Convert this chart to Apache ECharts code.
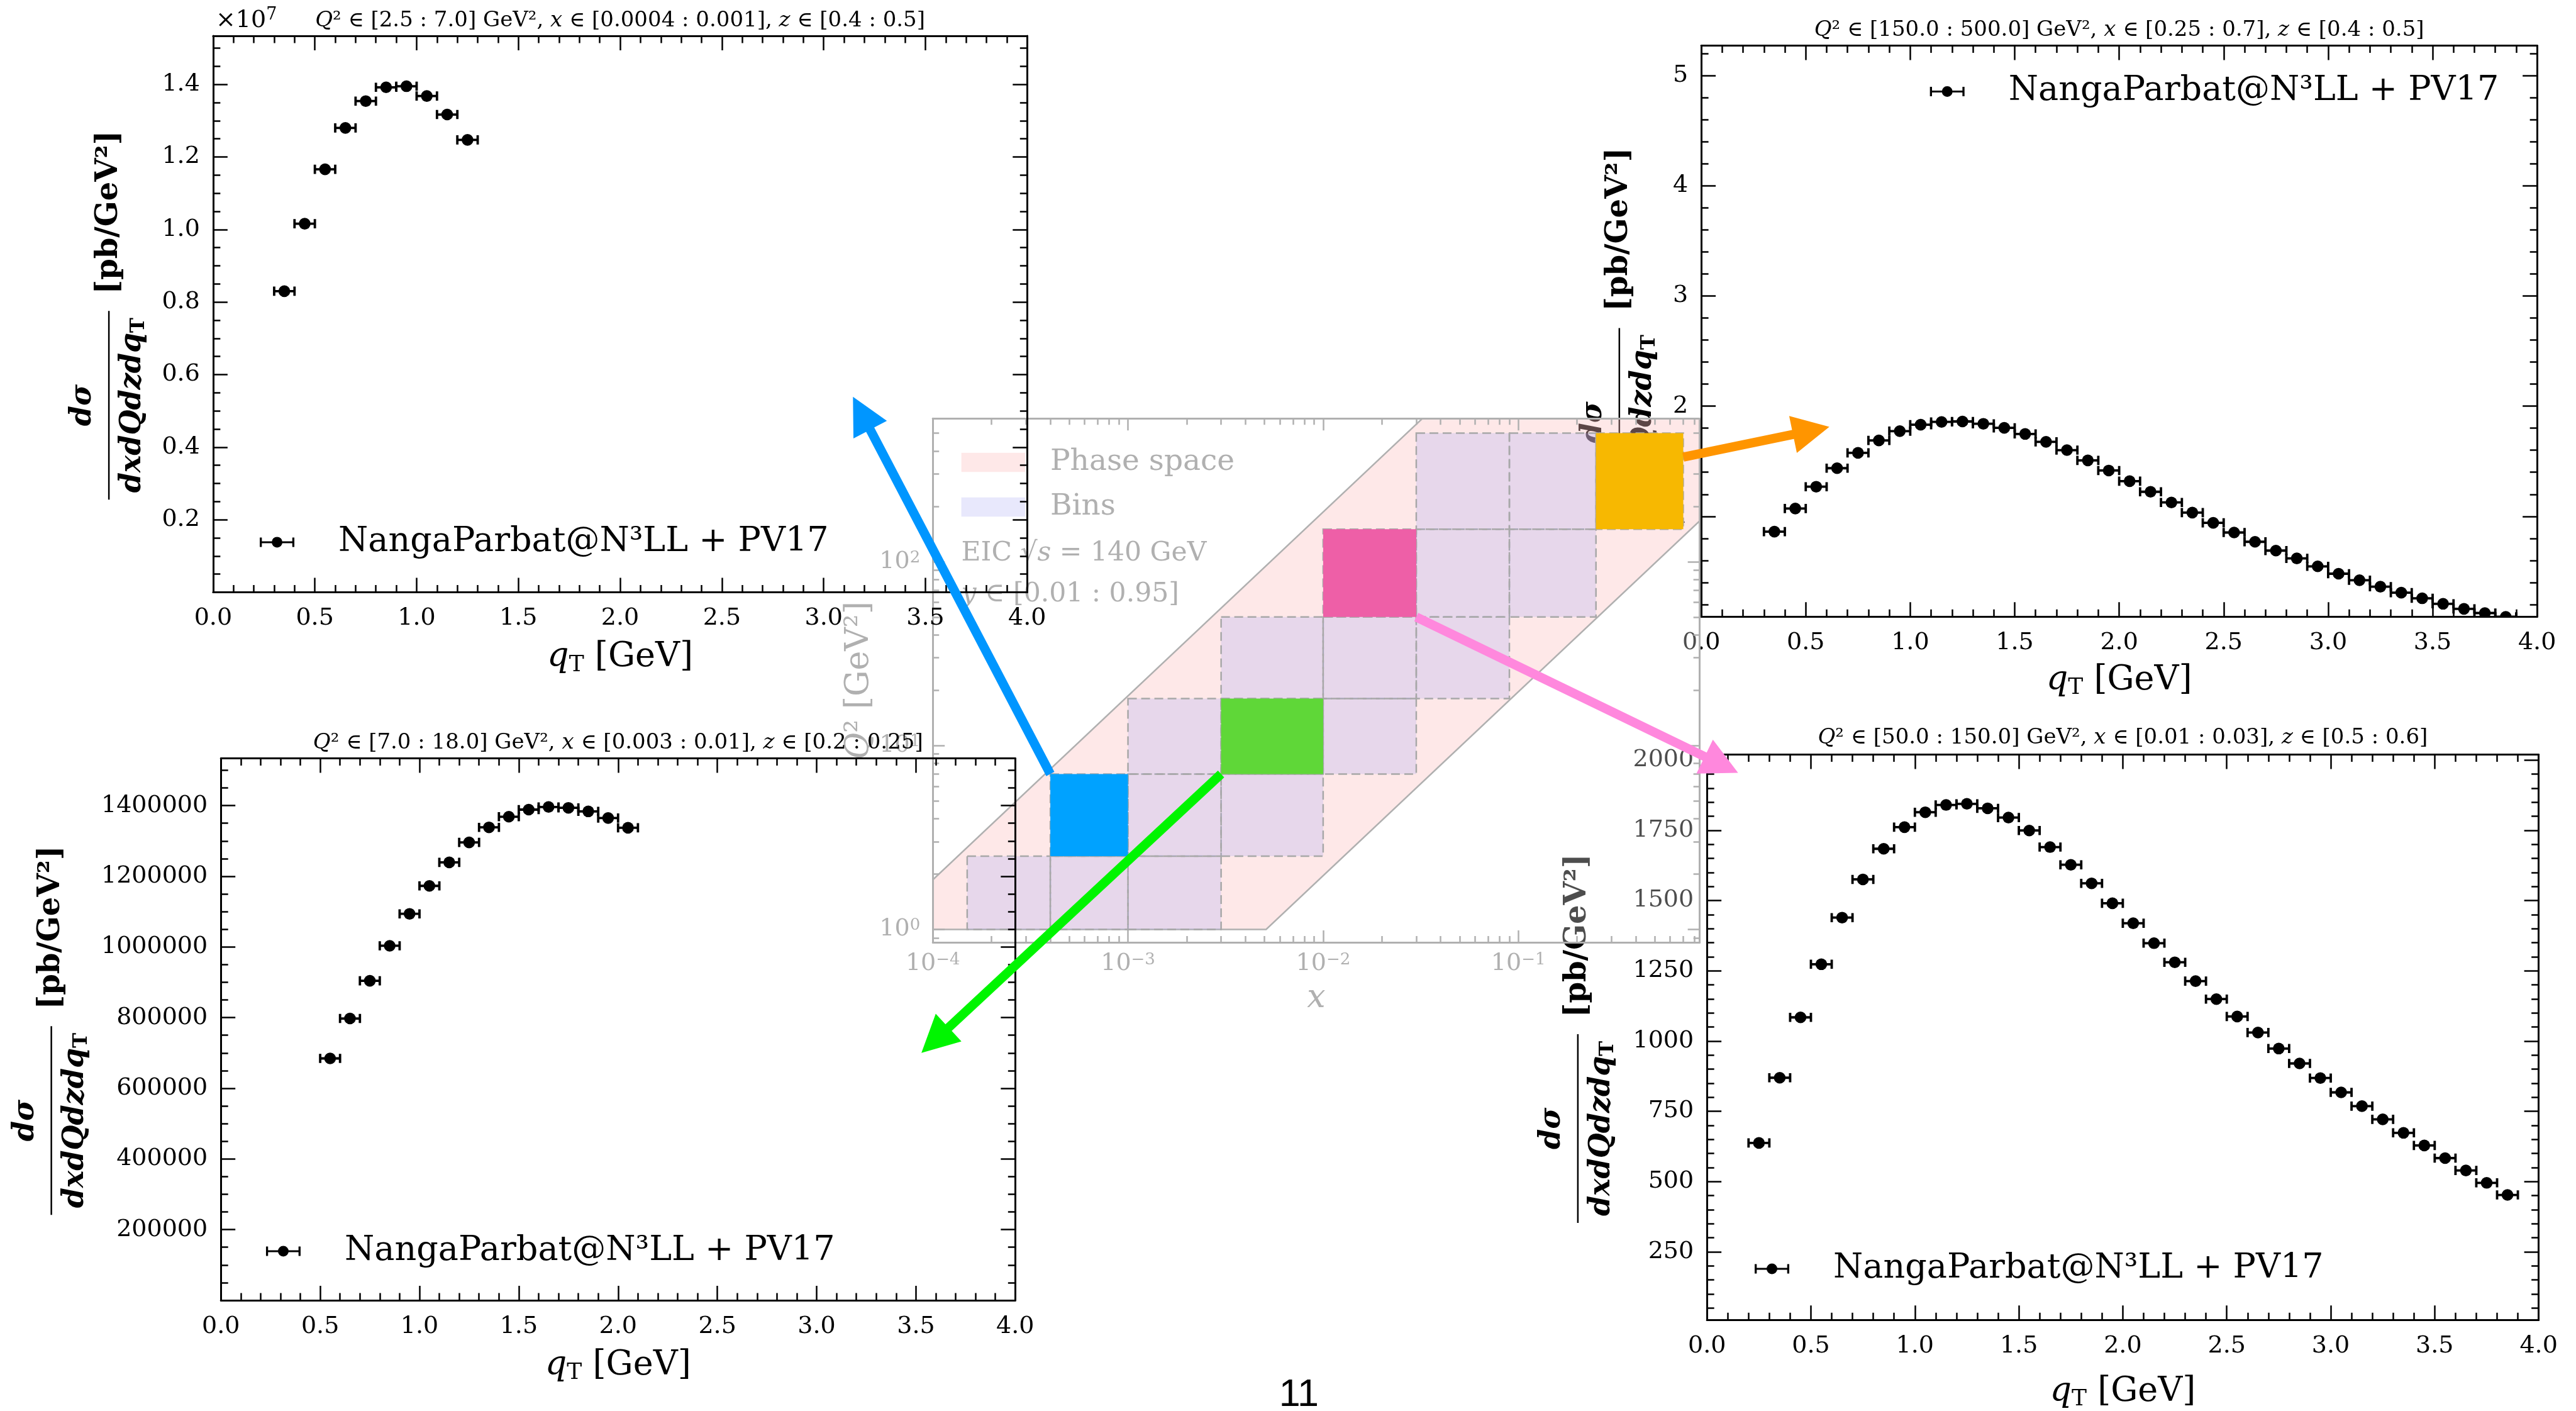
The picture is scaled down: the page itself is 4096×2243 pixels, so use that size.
<!DOCTYPE html>
<html>
<head>
<meta charset="utf-8">
<script src="https://cdn.jsdelivr.net/npm/echarts@6.0.0/dist/echarts.min.js"></script>
<style>
html,body{margin:0;padding:0;background:#ffffff;overflow:hidden}
#chart{width:4096px;height:2243px}
</style>
</head>
<body>
<div id="chart"></div>
<script>
// ================= values =================
const QT_ERR = 0.05;
const TL_QT   = [0.35,0.45,0.55,0.65,0.75,0.85,0.95,1.05,1.15,1.25];
const TL_XSEC = [8.30e6,1.016e7,1.166e7,1.280e7,1.354e7,1.392e7,1.395e7,1.368e7,1.317e7,1.247e7];

const TR_QT   = [0.35,0.45,0.55,0.65,0.75,0.85,0.95,1.05,1.15,1.25,1.35,1.45,1.55,1.65,1.75,1.85,1.95,2.05,
                 2.15,2.25,2.35,2.45,2.55,2.65,2.75,2.85,2.95,3.05,3.15,3.25,3.35,3.45,3.55,3.65,3.75,3.85];
const TR_XSEC = [0.861,1.071,1.269,1.437,1.576,1.689,1.773,1.832,1.857,1.861,1.840,1.803,1.748,1.676,1.601,1.508,1.416,1.319,
                 1.223,1.126,1.034,0.941,0.853,0.769,0.689,0.618,0.546,0.479,0.420,0.361,0.307,0.256,0.206,0.160,0.122,0.088];

const BL_QT   = [0.55,0.65,0.75,0.85,0.95,1.05,1.15,1.25,1.35,1.45,1.55,1.65,1.75,1.85,1.95,2.05];
const BL_XSEC = [684500,797500,904200,1003300,1093700,1172800,1239300,1295800,1338500,1368600,1388700,1396200,1393700,1383700,1364900,1337200];

const BR_QT   = [0.25,0.35,0.45,0.55,0.65,0.75,0.85,0.95,1.05,1.15,1.25,1.35,1.45,1.55,1.65,1.75,1.85,1.95,2.05,
                 2.15,2.25,2.35,2.45,2.55,2.65,2.75,2.85,2.95,3.05,3.15,3.25,3.35,3.45,3.55,3.65,3.75,3.85];
const BR_XSEC = [637,869,1084,1273,1439,1575,1684,1761,1814,1840,1844,1828,1795,1749,1690,1627,1561,1490,1419,
                 1348,1280,1213,1149,1087,1030,973,920,868,817,768,721,673,628,583,539,495,452];

// tick values
const QT_TICKS = [0,0.5,1,1.5,2,2.5,3,3.5,4];
const TL_YTICKS = [2e6,4e6,6e6,8e6,1e7,1.2e7,1.4e7];
const TR_YTICKS = [1,2,3,4,5];
const BL_YTICKS = [200000,400000,600000,800000,1000000,1200000,1400000];
const BR_YTICKS = [250,500,750,1000,1250,1500,1750,2000];
const INSET_X_DECADES = [-4,-3,-2,-1];
const INSET_Q2_DECADES = [0,1,2];

// axis ranges
const TL_YRANGE = [0, 1.534e7];
const TR_YRANGE = [0.089, 5.273];
const BL_YRANGE = [0, 1.534e6];
const BR_YRANGE = [7, 2019];
const INSET_XRANGE = [1e-4, 0.85];
const INSET_Q2RANGE = [0.85, 600];

// kinematics of the phase-space inset
const SQRT_S = 140;
const Y_MIN = 0.01, Y_MAX = 0.95;
const Q2_MIN = 1;
const BIN_X_EDGES  = [0.00015, 0.0004, 0.001, 0.003, 0.01, 0.03, 0.09, 0.25, 0.7];
const BIN_Q2_EDGES = [1, 2.5, 7, 18, 50, 150, 500];
const BIN_CELLS = [[0,0],[1,0],[2,0],[1,1],[2,1],[3,1],[2,2],[3,2],[4,2],[3,3],[4,3],[5,3],[4,4],[5,4],[6,4],[5,5],[6,5],[7,5]];
const SELECTED_CELLS = [[1,1],[3,2],[4,4],[7,5]];   // TL, BL, BR, TR panels
const ORANGE_ARROW_Q2 = 370;

const LEGEND_LABEL = 'NangaParbat@N³LL + PV17';
const TITLE_TL = '{i|Q}² ∈ [2.5 : 7.0] GeV², {i|x} ∈ [0.0004 : 0.001], {i|z} ∈ [0.4 : 0.5]';
const TITLE_TR = '{i|Q}² ∈ [150.0 : 500.0] GeV², {i|x} ∈ [0.25 : 0.7], {i|z} ∈ [0.4 : 0.5]';
const TITLE_BL = '{i|Q}² ∈ [7.0 : 18.0] GeV², {i|x} ∈ [0.003 : 0.01], {i|z} ∈ [0.2 : 0.25]';
const TITLE_BR = '{i|Q}² ∈ [50.0 : 150.0] GeV², {i|x} ∈ [0.01 : 0.03], {i|z} ∈ [0.5 : 0.6]';

// ================= styles / layout =================
const K = 4096 / 4968;          // reference px -> page px
const R = v => v * K;
const FONT = 'DejaVu Serif';
const GRAY = '#b0b0b0';
const SEL_COLORS = ['#00a2ff', '#5fd738', '#ee5fa7', '#f7b801'];
const PHASE_FILL = 'rgba(240,0,0,0.09)';
const BIN_FILL = 'rgba(166,166,243,0.26)';
const ERR_ICON = 'path://M0,1h3.3v6h48.4v-6h3.3v15h-3.3v-6h-48.4v6h-3.3z M19,8.5a8.5,8.5 0 1,1 17,0a8.5,8.5 0 1,1 -17,0z';

const PLOTS = [
  {qt:TL_QT, xs:TL_XSEC, box:[411,69,1981,1142],   yRange:TL_YRANGE, yTicks:TL_YTICKS, ySub:4, yFmt:v=>(v/1e7).toFixed(1),
   title:TITLE_TL, titleY:40,  xNameY:1268, barX:210,  legend:[501,1049],  z:30},
  {qt:TR_QT, xs:TR_XSEC, box:[3281,88,4893,1189],  yRange:TR_YRANGE, yTicks:TR_YTICKS, ySub:5, yFmt:v=>String(v),
   title:TITLE_TR, titleY:58,  xNameY:1312, barX:3123, legend:[3722,180],  z:0},
  {qt:BL_QT, xs:BL_XSEC, box:[426,1462,1958,2507], yRange:BL_YRANGE, yTicks:BL_YTICKS, ySub:4, yFmt:v=>String(v),
   title:TITLE_BL, titleY:1433, xNameY:2633, barX:99,  legend:[513,2416],  z:30},
  {qt:BR_QT, xs:BR_XSEC, box:[3292,1455,4896,2545],yRange:BR_YRANGE, yTicks:BR_YTICKS, ySub:5, yFmt:v=>String(v),
   title:TITLE_BR, titleY:1423, xNameY:2684, barX:3043, legend:[3384,2450], z:0}
];
const INSET_BOX = [1799, 807, 3278, 1817];

function subTicks(major, nsub, lo, hi) {
  const step = (major[1] - major[0]) / nsub, out = [];
  const n0 = Math.floor((lo - major[0]) / step) - 1, n1 = Math.ceil((hi - major[0]) / step) + 1;
  for (let n = n0; n <= n1; n++) {
    if (((n % nsub) + nsub) % nsub === 0) continue;
    const v = +(major[0] + n * step).toPrecision(12);
    if (v > lo && v < hi) out.push(v);
  }
  return out;
}
function logSubTicks(lo, hi) {
  const out = [];
  for (let n = Math.floor(lo); n <= Math.ceil(hi); n++)
    for (let k = 2; k <= 9; k++) { const v = n + Math.log10(k); if (v > lo + 1e-9 && v < hi - 1e-9) out.push(v); }
  return out;
}

const option = {
  animation: false,
  backgroundColor: '#ffffff',
  textStyle: {fontFamily: FONT},
  grid: [], xAxis: [], yAxis: [], series: [], legend: []
};

function makeAxes(gi, c) {
  const lineStyle = () => ({color: c.color, width: 3});
  const tickStyle = () => ({color: c.color, width: 2.5});
  const common = () => ({type: 'value', gridIndex: gi, z: c.z, splitLine: {show: false}, minorTick: {show: false}, minorSplitLine: {show: false}});
  const lab = (vals, fmt, margin) => ({show: true, customValues: vals, formatter: fmt, margin: margin, color: c.color,
      fontFamily: FONT, fontSize: 38, rich: c.rich});
  const xi = option.xAxis.length, yi = option.yAxis.length;
  ['bottom', 'top'].forEach(pos => {
    option.xAxis.push(Object.assign(common(), {position: pos, min: c.xRange[0], max: c.xRange[1],
      axisLine: {show: true, onZero: false, lineStyle: lineStyle()},
      axisTick: {show: true, inside: true, length: c.majLen, customValues: c.xMajor, lineStyle: tickStyle()},
      axisLabel: pos === 'bottom' ? lab(c.xMajor, c.xFmt, c.xMargin) : {show: false}}));
    option.xAxis.push(Object.assign(common(), {position: pos, min: c.xRange[0], max: c.xRange[1],
      axisLine: {show: false, onZero: false},
      axisTick: {show: true, inside: true, length: c.minLen, customValues: c.xMinor, lineStyle: tickStyle()},
      axisLabel: {show: false}}));
  });
  ['left', 'right'].forEach(pos => {
    option.yAxis.push(Object.assign(common(), {position: pos, min: c.yRange[0], max: c.yRange[1],
      axisLine: {show: true, onZero: false, lineStyle: lineStyle()},
      axisTick: {show: true, inside: true, length: c.majLen, customValues: c.yMajor, lineStyle: tickStyle()},
      axisLabel: pos === 'left' ? lab(c.yMajor, c.yFmt, c.yMargin) : {show: false}}));
    option.yAxis.push(Object.assign(common(), {position: pos, min: c.yRange[0], max: c.yRange[1],
      axisLine: {show: false, onZero: false},
      axisTick: {show: true, inside: true, length: c.minLen, customValues: c.yMinor, lineStyle: tickStyle()},
      axisLabel: {show: false}}));
  });
  return {x: xi, y: yi};
}

function renderErr(params, api) {
  const x = api.value(0), y = api.value(1);
  const c = api.coord([x, y]), l = api.coord([x - QT_ERR, y]), r = api.coord([x + QT_ERR, y]);
  const st = () => ({stroke: '#000', lineWidth: 3.8});
  return {type: 'group', children: [
    {type: 'line', shape: {x1: l[0], y1: c[1], x2: r[0], y2: c[1]}, style: st()},
    {type: 'line', shape: {x1: l[0], y1: c[1] - 7.3, x2: l[0], y2: c[1] + 7.3}, style: st()},
    {type: 'line', shape: {x1: r[0], y1: c[1] - 7.3, x2: r[0], y2: c[1] + 7.3}, style: st()},
    {type: 'circle', shape: {cx: c[0], cy: c[1], r: 9.3}, style: {fill: '#000'}}
  ]};
}

const tickRich = (col) => ({t: {fontFamily: FONT, fontSize: 38, color: col}});
const wrapT = f => v => '{t|' + f(v) + '}';

// ----- four cross-section panels -----
PLOTS.forEach((p, gi) => {
  const [x0, y0, x1, y1] = p.box;
  option.grid.push({left: R(x0), top: R(y0), width: R(x1 - x0), height: R(y1 - y0), show: false,
    containLabel: false, outerBoundsMode: 'none', z: p.z});
  const ax = makeAxes(gi, {xRange: [0, 4], yRange: p.yRange, xMajor: QT_TICKS, xMinor: subTicks(QT_TICKS, 5, 0, 4),
    yMajor: p.yTicks, yMinor: subTicks(p.yTicks, p.ySub, p.yRange[0], p.yRange[1]), xFmt: wrapT(v => v.toFixed(1)), yFmt: wrapT(p.yFmt),
    color: '#000', z: p.z + 3, majLen: 23, minLen: 11.5, xMargin: 23, yMargin: 21, rich: tickRich('#000')});
  p.ax = ax;
  option.series.push({type: 'custom', name: LEGEND_LABEL, xAxisIndex: ax.x, yAxisIndex: ax.y,
    data: p.qt.map((q, i) => [q, p.xs[i]]), renderItem: renderErr, clip: true, z: p.z + 2, silent: true,
    itemStyle: {color: '#000'}});
  option.legend.push({left: R(p.legend[0]), top: R(p.legend[1]) - 30, orient: 'vertical', padding: 0, z: p.z + 4,
    selectedMode: false, itemWidth: 55, itemHeight: 17,
    data: [{name: LEGEND_LABEL, icon: ERR_ICON, itemStyle: {color: '#000', borderWidth: 0}}],
    formatter: n => '{n|' + n + '}',
    textStyle: {rich: {n: {fontFamily: FONT, fontSize: 54, color: '#000', lineHeight: 60, padding: [0, 0, 0, 65]}}}});
});

// ----- phase-space inset -----
const INSET_GI = option.grid.length;
option.grid.push({left: R(INSET_BOX[0]), top: R(INSET_BOX[1]), width: R(INSET_BOX[2] - INSET_BOX[0]),
  height: R(INSET_BOX[3] - INSET_BOX[1]), show: true, backgroundColor: 'rgba(255,255,255,0.3)', borderWidth: 0,
  containLabel: false, outerBoundsMode: 'none', z: 20});
const lx = [Math.log10(INSET_XRANGE[0]), Math.log10(INSET_XRANGE[1])];
const lq = [Math.log10(INSET_Q2RANGE[0]), Math.log10(INSET_Q2RANGE[1])];
const powFmt = v => '{b|10}{s|' + (v < 0 ? '−' + (-v) : String(v)) + '}';
const insetAx = makeAxes(INSET_GI, {xRange: lx, yRange: lq, xMajor: INSET_X_DECADES, xMinor: logSubTicks(lx[0], lx[1]),
  yMajor: INSET_Q2_DECADES, yMinor: logSubTicks(lq[0], lq[1]), xFmt: powFmt, yFmt: powFmt, color: GRAY, z: 25,
  majLen: 19, minLen: 10, xMargin: 15, yMargin: 20,
  rich: {b: {fontFamily: FONT, fontSize: 38, color: GRAY}, s: {fontFamily: FONT, fontSize: 26, color: GRAY, verticalAlign: 'top', lineHeight: 26}}});

const L = p => [Math.log10(p[0]), Math.log10(p[1])];
option.series.push({type: 'custom', name: 'Phase space', xAxisIndex: insetAx.x, yAxisIndex: insetAx.y, data: [[0, 0]],
  clip: true, z: 21, silent: true, itemStyle: {color: PHASE_FILL},
  renderItem: (params, api) => {
    const s = SQRT_S * SQRT_S, xr = 1, qh = 1e4;
    const pts = [[Q2_MIN / (s * Y_MAX), Q2_MIN], [Q2_MIN / (s * Y_MIN), Q2_MIN], [xr, s * Y_MIN * xr], [xr, qh], [qh / (s * Y_MAX), qh]]
      .map(p => api.coord(L(p)));
    return {type: 'polygon', shape: {points: pts}, style: {fill: PHASE_FILL, stroke: GRAY, lineWidth: 2.5}};
  }});
function cellRect(api, i, j) {
  const a = api.coord(L([BIN_X_EDGES[i], BIN_Q2_EDGES[j + 1]]));
  const b = api.coord(L([BIN_X_EDGES[i + 1], BIN_Q2_EDGES[j]]));
  return {x: a[0], y: a[1], width: b[0] - a[0], height: b[1] - a[1]};
}
option.series.push({type: 'custom', name: 'Bins', xAxisIndex: insetAx.x, yAxisIndex: insetAx.y, data: BIN_CELLS,
  clip: true, z: 22, silent: true, itemStyle: {color: BIN_FILL},
  renderItem: (params, api) => ({type: 'rect', shape: cellRect(api, api.value(0), api.value(1)),
    style: {fill: BIN_FILL, stroke: '#a8a8a8', lineWidth: 2.5, lineDash: [14, 7]}})});
option.series.push({type: 'custom', name: 'selected bins', xAxisIndex: insetAx.x, yAxisIndex: insetAx.y, data: SELECTED_CELLS,
  clip: true, z: 23, silent: true,
  renderItem: (params, api) => ({type: 'rect', shape: cellRect(api, api.value(0), api.value(1)),
    style: {fill: SEL_COLORS[params.dataIndex]}})});
option.legend.push({left: R(1854), top: R(886) - 19, orient: 'vertical', padding: 0, itemGap: 24, z: 26,
  selectedMode: false, itemWidth: R(123), itemHeight: R(37),
  data: [{name: 'Phase space', icon: 'rect', itemStyle: {color: PHASE_FILL, borderWidth: 0}},
         {name: 'Bins', icon: 'rect', itemStyle: {color: BIN_FILL, borderWidth: 0}}],
  formatter: n => '{n|' + n + '}',
  textStyle: {rich: {n: {fontFamily: FONT, fontSize: 47, color: GRAY, lineHeight: 56, padding: [0, 0, 0, 35]}}}});

const chart = echarts.init(document.getElementById('chart'), null, {renderer: 'canvas'});
chart.setOption(option);

// ================= texts and arrows =================
const G = [];
function tokenize(s) {
  return s.split(/(\{[a-z]+\|[^}]*\})/).filter(x => x.length)
    .map(x => /^\{[a-z]+\|[^}]*\}$/.test(x) ? x : '{r|' + x + '}').join('');
}
function txt(x, y, text, size, o) {
  o = o || {};
  const col = o.color || '#000';
  const fam = o.family || FONT;
  const rich = Object.assign({r: {fontFamily: fam, fontSize: size, fill: col, fontStyle: o.style || 'normal',
    fontWeight: o.weight || 'normal', lineHeight: o.lh || Math.round(size * 1.15)}}, o.rich || {});
  return {type: 'text', x: x, y: y, z: o.z || 0, rotation: o.rot || 0, silent: true,
    style: {text: tokenize(text), fontFamily: fam, fontSize: size, fill: col, align: o.align || 'center',
      verticalAlign: 'middle', fontStyle: o.style || 'normal', fontWeight: o.weight || 'normal', rich: rich}};
}
const italic = (size, col, extra) => Object.assign({fontFamily: FONT, fontSize: size, fontStyle: 'italic', fill: col || '#000'}, extra || {});
const XNAME = 54;

PLOTS.forEach(p => {
  const [x0, y0, x1, y1] = p.box;
  const cx = R((x0 + x1) / 2), cy = R((y0 + y1) / 2);
  const z = p.z + 5;
  G.push(txt(cx, R(p.titleY), p.title, 34, {z: z, rich: {i: italic(34, '#000', {lineHeight: 39})}}));
  G.push(txt(cx, R(p.xNameY), '{i|q}{s|T} [GeV]', XNAME, {z: z, lh: 60,
    rich: {i: italic(XNAME, '#000', {lineHeight: 60}), s: {fontFamily: FONT, fontSize: 36, fill: '#000', lineHeight: 34, verticalAlign: 'bottom'}}}));
  // y label: fraction + unit, rotated
  const bx = R(p.barX), FC = -145;
  const num = txt(FC, -41, 'dσ', 46, {z: z, style: 'italic', weight: 'bold'});
  const den = txt(FC, 38, '{m|dxdQdzdq}{s|T}', 46, {z: z,
    rich: {m: {fontFamily: FONT, fontSize: 46, fontStyle: 'italic', fontWeight: 'bold', fill: '#000', lineHeight: 52},
           s: {fontFamily: FONT, fontSize: 32, fontWeight: 'bold', fill: '#000', lineHeight: 30, verticalAlign: 'bottom'}}});
  const unit = txt(161.6, 0, '[pb/GeV²]', 48, {z: z, weight: 'bold'});
  G.push({type: 'group', x: bx, y: cy, rotation: Math.PI / 2, silent: true, z: z, children: [
    {type: 'line', z: z, shape: {x1: FC - 150, y1: 0, x2: FC + 150, y2: 0}, style: {stroke: '#000', lineWidth: 2.5}},
    num, den, unit
  ]});
});
// offset text of top-left panel
G.push(txt(R(416), R(40), '{a|×10}{s|7}', 38, {align: 'left', z: 35,
  rich: {a: {fontFamily: FONT, fontSize: 38, fill: '#000', lineHeight: 44}, s: {fontFamily: FONT, fontSize: 27, fill: '#000', verticalAlign: 'top', lineHeight: 27}}}));

// inset texts
G.push(txt(R((INSET_BOX[0] + INSET_BOX[2]) / 2), R(1925), '{i|x}', 52, {z: 26, color: GRAY, rich: {i: italic(52, GRAY)}}));
G.push(txt(R(1658), R((INSET_BOX[1] + INSET_BOX[3]) / 2), '{i|Q}² [GeV²]', 52, {z: 26, color: GRAY, rot: Math.PI / 2,
  rich: {i: italic(52, GRAY, {lineHeight: 60})}}));
G.push(txt(R(1854), R(1067), 'EIC √{i|s} = 140 GeV', 42.5, {z: 26, color: GRAY, align: 'left', rich: {i: italic(42.5, GRAY, {lineHeight: 49})}}));
G.push(txt(R(1854), R(1146), '{i|y} ∈ [0.01 : 0.95]', 42.5, {z: 26, color: GRAY, align: 'left', rich: {i: italic(42.5, GRAY, {lineHeight: 49})}}));

// page number
G.push(txt(R(2505), R(2690), '11', 61, {family: 'Liberation Sans', z: 5}));

// arrows from the highlighted bins to their panels
const toPx = (x, q) => chart.convertToPixel({xAxisIndex: insetAx.x, yAxisIndex: insetAx.y}, [Math.log10(x), Math.log10(q)]);
const ARROWS = [
  {from: toPx(BIN_X_EDGES[1], BIN_Q2_EDGES[2]), tip: [1645, 765],  color: '#0096ff'},
  {from: toPx(BIN_X_EDGES[3], BIN_Q2_EDGES[2]), tip: [1777, 2030], color: '#00f500'},
  {from: toPx(BIN_X_EDGES[5], BIN_Q2_EDGES[4]), tip: [3352, 1490], color: '#ff88dd'},
  {from: toPx(BIN_X_EDGES[8], ORANGE_ARROW_Q2), tip: [3528, 823],  color: '#ff9500'}
];
ARROWS.forEach(a => {
  const t = a.from, p = [R(a.tip[0]), R(a.tip[1])];
  const w = 7.3, hw = 30, hl = 59;
  const dx = p[0] - t[0], dy = p[1] - t[1], len = Math.hypot(dx, dy);
  const ux = dx / len, uy = dy / len, nx = -uy, ny = ux;
  const bx = p[0] - ux * hl, by = p[1] - uy * hl;
  G.push({type: 'polygon', z: 60, silent: true, shape: {points: [
    [t[0] + nx * w, t[1] + ny * w], [bx + nx * w, by + ny * w], [bx + nx * hw, by + ny * hw], p,
    [bx - nx * hw, by - ny * hw], [bx - nx * w, by - ny * w], [t[0] - nx * w, t[1] - ny * w]]},
    style: {fill: a.color}});
});
chart.setOption({graphic: {elements: G}});
</script>
</body>
</html>
